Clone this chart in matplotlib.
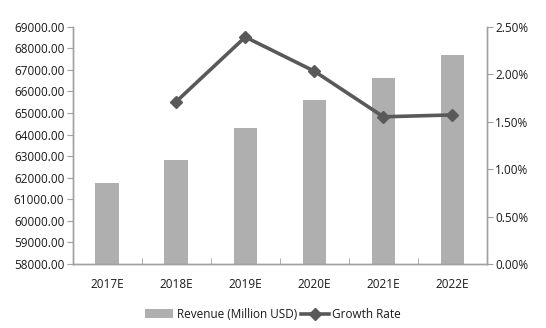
import numpy as np
import matplotlib
matplotlib.use("Agg")
import matplotlib.pyplot as plt
from matplotlib.ticker import FuncFormatter, MultipleLocator

# data
years = ["2017E", "2018E", "2019E", "2020E", "2021E", "2022E"]
revenue = [61740, 62800, 64310, 65620, 66640, 67700]
growth = [np.nan, 1.71, 2.39, 2.03, 1.55, 1.57]  # percent

plt.rcParams['font.family'] = ['Open Sans', 'DejaVu Sans']

fig = plt.figure(figsize=(5.46, 3.28), dpi=100)
ax = fig.add_axes([0.133, 0.195, 0.759, 0.724])
x = np.arange(len(years))

bars = ax.bar(x, revenue, width=0.34, color="#AFAFAF", label="Revenue (Million USD)", zorder=2)
ax.set_ylim(58000, 69000)
ax.set_xlim(-0.5, len(years) - 0.5)
ax.yaxis.set_major_locator(MultipleLocator(1000))
ax.yaxis.set_major_formatter(FuncFormatter(lambda v, p: f"{v:.2f}"))
ax.set_xticks(x)
ax.set_xticklabels(years)
ax.set_xticks(np.arange(-0.5, len(years), 1), minor=True)
ax.tick_params(axis="x", which="major", length=0, pad=10, labelsize=8.5, labelcolor="#1A1A1A")
ax.tick_params(axis="x", which="minor", direction="in", length=4, color="#A0A0A0")
ax.tick_params(axis="y", length=4, color="#A0A0A0", labelsize=8.5, pad=2, labelcolor="#1A1A1A")

ax2 = ax.twinx()
line, = ax2.plot(x, growth, color="#595959", linewidth=2.6, marker="D",
                 markersize=6.5, label="Growth Rate", zorder=3)
ax2.set_ylim(0, 2.5)
ax2.yaxis.set_major_locator(MultipleLocator(0.5))
ax2.yaxis.set_major_formatter(FuncFormatter(lambda v, p: f"{v:.2f}%"))
ax2.tick_params(axis="y", length=4, color="#A0A0A0", labelsize=8.5, pad=2, labelcolor="#1A1A1A")

for a in (ax, ax2):
    a.spines["top"].set_visible(False)
    for s in ("left", "right", "bottom"):
        a.spines[s].set_color("#A0A0A0")
        a.spines[s].set_linewidth(1.0)

fig.legend(handles=[bars, line], loc="lower center", bbox_to_anchor=(0.5, -0.01),
           ncol=2, frameon=False, fontsize=8.5, handlelength=2.4,
           handletextpad=0.3, columnspacing=0.3, labelcolor="#1A1A1A")

fig.savefig("out.png", dpi=100)
